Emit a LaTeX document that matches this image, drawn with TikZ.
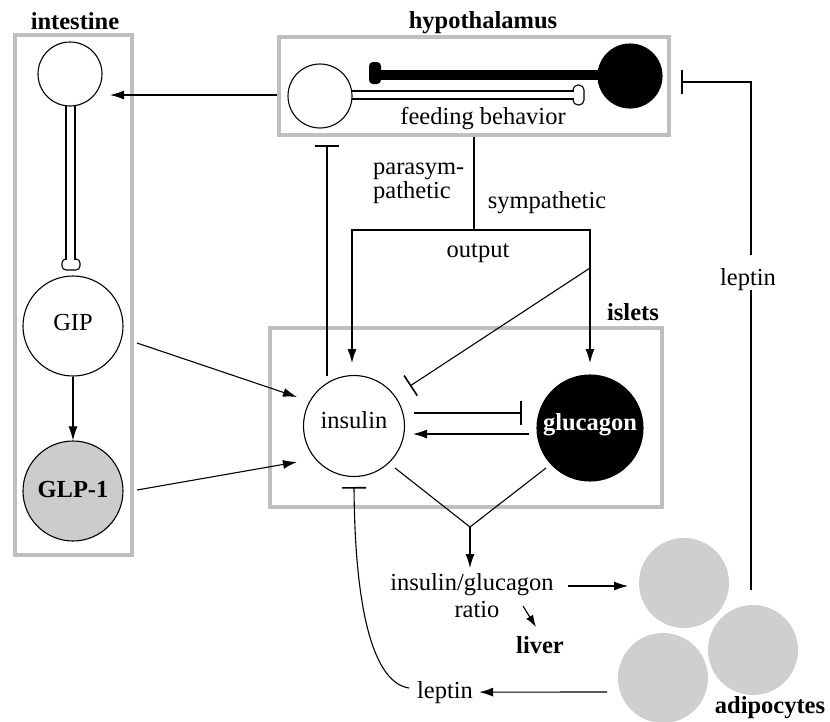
\documentclass[tikz,border=0pt]{standalone}
\usepackage{fontspec}
\setmainfont{Liberation Serif}
\usetikzlibrary{arrows.meta}
\begin{document}
\begin{tikzpicture}[x=1pt,y=-1pt,
  every node/.style={font=\fontsize{24.5}{26}\selectfont, inner sep=0pt},
  txt/.style={anchor=base},
  btxt/.style={anchor=base, font=\fontsize{24.5}{26}\selectfont\bfseries},
  regbox/.style={draw=gray!50, line width=3.5pt},
  thin/.style={line width=1.1pt},
  act/.style={thin, -{Latex[length=14pt,width=9pt]}},
  inh/.style={thin, -{Bar[width=24pt,line width=1.6pt]}},
  cell/.style={circle, draw, line width=1.1pt, inner sep=0pt},
  fat/.style={circle, fill=gray!38, minimum size=90pt, inner sep=0pt},
]
\useasboundingbox (0,0) rectangle (830,721);

% region boxes
\node[regbox, minimum width=117pt, minimum height=520pt] (intBox) at (73.5,295) {};
\node[regbox, minimum width=390pt, minimum height=98pt] (hypoBox) at (474,86) {};
\node[regbox, minimum width=392pt, minimum height=179pt] (isBox) at (466,417.5) {};

% titles
\node[btxt] (intLbl) at (75,29) {intestine};
\node[btxt] (hypoLbl) at (483,28) {hypothalamus};
\node[btxt] (isLbl) at (633,320) {islets};
\node[btxt] (adLbl) at (770,713) {adipocytes};
\node[btxt] (liver) at (540,653) {liver};

% intestine neuron
\draw[thin, fill=white, rounded corners=4pt] (62,259) rectangle (80,270);
\fill[white] (66.5,100) rectangle (74.5,260);
\draw[thin] (66,100) -- (66,259.5) (75,100) -- (75,259.5);
\node[cell, fill=white, minimum size=64pt] (n1) at (70,74) {};

% hypothalamus neurons
\draw[line width=10pt] (376,75) -- (610,75);
\fill[rounded corners=4pt] (369,62) rectangle (381,84);
\node[cell, fill=black, minimum size=64pt] (hb) at (630,76) {};
\draw[thin, fill=white, rounded corners=5pt] (573,85) rectangle (584,105);
\fill[white] (340,91.6) rectangle (574,98.4);
\draw[thin] (340,91) -- (573.6,91) (340,99) -- (573.6,99);
\node[cell, fill=white, minimum size=64pt] (hw) at (320,96) {};
\node[txt] (feed) at (483,124) {feeding behavior};

% intestine cells
\node[cell, minimum size=100pt] (gip) at (73,326) {};
\node[txt] (gipT) at (73,330) {GIP};
\node[cell, fill=gray!40, minimum size=100pt] (glp) at (73,491) {};
\node[btxt] (glpT) at (73,497) {GLP-1};
\draw[act] (gip) -- (glp);

% islet cells
\node[cell, minimum size=101pt] (ins) at (354,426) {};
\node[txt] (insT) at (354,428) {insulin};
\node[cell, fill=black, minimum size=106pt] (glu) at (590,428) {};
\node[btxt, text=white] (gluT) at (590,430) {glucagon};

% hypothalamus to intestine
\coordinate (hI) at (hypoBox.west |- 0,95);
\draw[act] (hI) -- (110,95);

% insulin inhibits hypothalamus
\coordinate (insTop) at (327,376);
\draw[inh] (insTop) -- (327,145);

% autonomic output
\coordinate (outSplit) at (474,230);
\draw[thin] (hypoBox.south -| outSplit) -- (outSplit);
\draw[act] (outSplit) -| (352,363);
\draw[act] (outSplit) -| (590,363);
\node[anchor=base west, align=left, font=\fontsize{24.5}{21.5}\selectfont] (para) at (373,198) {parasym-\\pathetic};
\node[txt] (symp) at (547,208) {sympathetic};
\node[txt] (outp) at (478,257) {output};
\coordinate (sd) at (590,268);
\draw[inh] (sd) -- (410,386);

% insulin / glucagon interactions
\draw[inh] (414,413) -- (522,413);
\draw[act] (529,434) -- (413,434);
\coordinate (conv) at (470,527);
\draw[thin] (395,468) -- (conv) -- (546,468);
\node[txt] (ratio1) at (472,590) {insulin/glucagon};
\node[txt] (ratio2) at (477,617) {ratio};
\draw[act] (conv) -- (470,568);
\coordinate (rl) at (523,606);
\coordinate (lv) at (536,627);
\draw[thin, -{Latex[length=12pt,width=8pt]}] (rl) -- (lv);

% intestine hormones to insulin
\draw[act] (137,343) -- (297,397);
\draw[act] (137,490) -- (297,462);

% adipocytes
\node[fat] (f1) at (684,583) {};
\node[fat] (f2) at (753,650) {};
\node[fat] (f3) at (663,678) {};
\draw[act] (568,586) -- (628,586);

% leptin loops
\node[txt] (lepR) at (748,285) {leptin};
\node[txt] (lepB) at (445,698) {leptin};
\draw[thin] (751,590) -- (751,290);
\draw[inh] (751,255) -- (751,82) -- (681,82);
\draw[act, shorten >=6pt] (607,692) -- (lepB.east);
\draw[inh] (409,688) .. controls (376,683) and (355,620) .. (354,487);
\end{tikzpicture}
\end{document}
